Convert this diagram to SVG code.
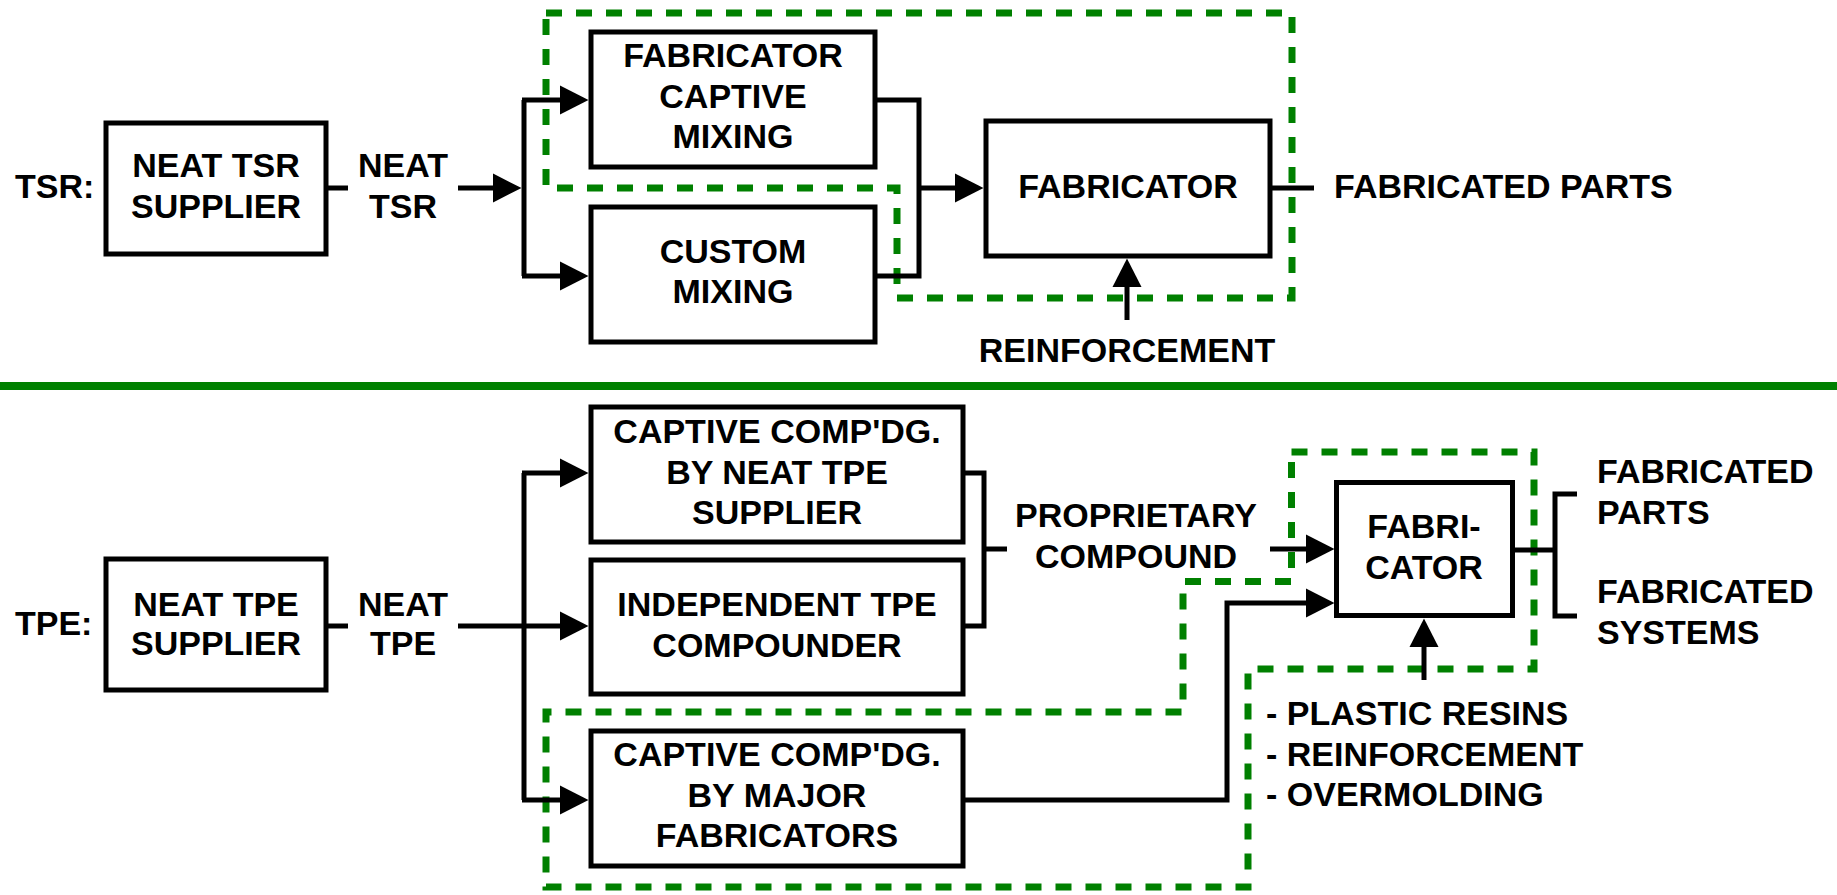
<svg xmlns="http://www.w3.org/2000/svg" width="1837" height="895" viewBox="0 0 1837 895">
<style>
.box{fill:#fff;stroke:#000;stroke-width:5}
.ln{fill:none;stroke:#000;stroke-width:5}
.grp{fill:none;stroke:#008000;stroke-width:7;stroke-dasharray:16 14}
text{font-family:"Liberation Sans",Arial,sans-serif;font-weight:bold;font-size:34px;fill:#000}
.c{text-anchor:middle}
</style>
<defs>
<marker id="ah" markerUnits="userSpaceOnUse" markerWidth="29" markerHeight="30" refX="0" refY="14.5" orient="auto" viewBox="0 0 29 29">
<path d="M0,0 L28.5,14.5 L0,29 z" fill="#000"/>
</marker>
</defs>
<rect width="1837" height="895" fill="#fff"/>
<line x1="0" y1="386" x2="1837" y2="386" stroke="#008000" stroke-width="8"/>
<g id="groups">
<path class="grp" d="M546,13 H1292 V298 H897 V188 H546 Z"/>
<path class="grp" d="M1291.5,452 H1534 V669 H1248 V887 H546 V712 H1183 V581.5 H1291.5 Z"/>
</g>
<g id="connectors">
<path class="ln" d="M326,188 H348"/>
<path class="ln" d="M458,188 H493" marker-end="url(#ah)"/>
<path class="ln" d="M524,100 V276"/>
<path class="ln" d="M522,100 H560" marker-end="url(#ah)"/>
<path class="ln" d="M522,276 H560" marker-end="url(#ah)"/>
<path class="ln" d="M875,100 H919 V276 H875"/>
<path class="ln" d="M919,188 H955" marker-end="url(#ah)"/>
<path class="ln" d="M1270,188 H1314"/>
<path class="ln" d="M1127,320 V287" marker-end="url(#ah)"/>
<path class="ln" d="M326,626 H348"/>
<path class="ln" d="M458,626 H560" marker-end="url(#ah)"/>
<path class="ln" d="M524,473 V800"/>
<path class="ln" d="M522,473 H560" marker-end="url(#ah)"/>
<path class="ln" d="M522,800 H560" marker-end="url(#ah)"/>
<path class="ln" d="M963,473 H984 V626 H963"/>
<path class="ln" d="M984,549 H1007"/>
<path class="ln" d="M1270,549 H1306" marker-end="url(#ah)"/>
<path class="ln" d="M963,800 H1227 V603 H1306" marker-end="url(#ah)"/>
<path class="ln" d="M1513,550 H1555"/>
<path class="ln" d="M1577,494 H1555 V616 H1577"/>
<path class="ln" d="M1424,680 V647" marker-end="url(#ah)"/>
</g>
<g id="labels">
<text x="15" y="198">TSR:</text>
<text class="c" x="403" y="177">NEAT</text>
<text class="c" x="403" y="218">TSR</text>
<text x="1334" y="198">FABRICATED PARTS</text>
<text class="c" x="1127" y="362">REINFORCEMENT</text>
<text x="15" y="635">TPE:</text>
<text class="c" x="403" y="616">NEAT</text>
<text class="c" x="403" y="655">TPE</text>
<text class="c" x="1136" y="527">PROPRIETARY</text>
<text class="c" x="1136" y="568">COMPOUND</text>
<text x="1597" y="483">FABRICATED</text>
<text x="1597" y="524">PARTS</text>
<text x="1597" y="603">FABRICATED</text>
<text x="1597" y="644">SYSTEMS</text>
<text x="1266" y="725">- PLASTIC RESINS</text>
<text x="1266" y="766">- REINFORCEMENT</text>
<text x="1266" y="806">- OVERMOLDING</text>
</g>
<g id="tsr-supplier">
<rect class="box" x="106" y="123" width="220" height="131"/>
<text class="c" x="216" y="177">NEAT TSR</text>
<text class="c" x="216" y="218">SUPPLIER</text>
</g>
<g id="fabricator-captive-mixing">
<rect class="box" x="591" y="32" width="284" height="135"/>
<text class="c" x="733" y="67">FABRICATOR</text>
<text class="c" x="733" y="108">CAPTIVE</text>
<text class="c" x="733" y="148">MIXING</text>
</g>
<g id="custom-mixing">
<rect class="box" x="591" y="207" width="284" height="135"/>
<text class="c" x="733" y="263">CUSTOM</text>
<text class="c" x="733" y="303">MIXING</text>
</g>
<g id="fabricator-tsr">
<rect class="box" x="986" y="121" width="284" height="135"/>
<text class="c" x="1128" y="198">FABRICATOR</text>
</g>
<g id="tpe-supplier">
<rect class="box" x="106" y="559" width="220" height="131"/>
<text class="c" x="216" y="616">NEAT TPE</text>
<text class="c" x="216" y="655">SUPPLIER</text>
</g>
<g id="captive-neat">
<rect class="box" x="591" y="407" width="372" height="135"/>
<text class="c" x="777" y="443">CAPTIVE COMP'DG.</text>
<text class="c" x="777" y="484">BY NEAT TPE</text>
<text class="c" x="777" y="524">SUPPLIER</text>
</g>
<g id="independent">
<rect class="box" x="591" y="560" width="372" height="134"/>
<text class="c" x="777" y="616">INDEPENDENT TPE</text>
<text class="c" x="777" y="657">COMPOUNDER</text>
</g>
<g id="captive-major">
<rect class="box" x="591" y="731" width="372" height="135"/>
<text class="c" x="777" y="766">CAPTIVE COMP'DG.</text>
<text class="c" x="777" y="807">BY MAJOR</text>
<text class="c" x="777" y="847">FABRICATORS</text>
</g>
<g id="fabricator-tpe">
<rect class="box" x="1336.5" y="482.5" width="176" height="133"/>
<text class="c" x="1424" y="538">FABRI-</text>
<text class="c" x="1424" y="579">CATOR</text>
</g>
</svg>
